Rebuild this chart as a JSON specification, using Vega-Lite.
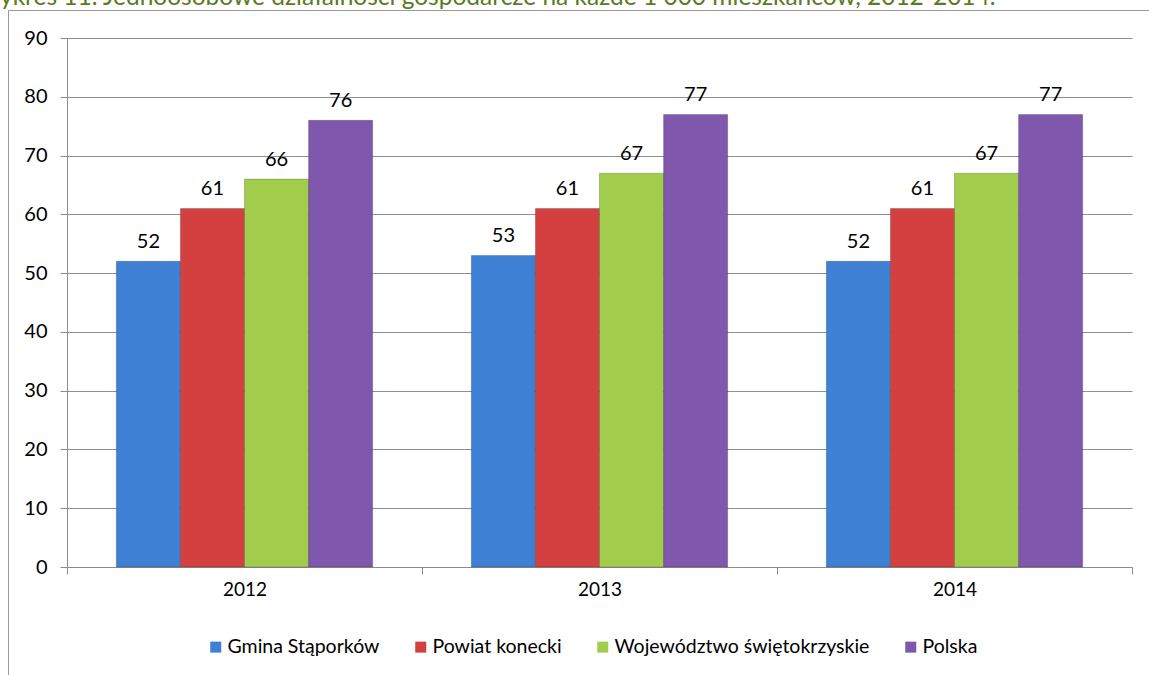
{
  "$schema": "https://vega.github.io/schema/vega-lite/v6.json",
  "width": 1141,
  "height": 665,
  "autosize": {"type": "none"},
  "padding": {"left": 8, "top": 10, "right": 0, "bottom": 0},
  "background": "white",
  "title": {
    "text": "ykres 11. Jednoosobowe działalności gospodarcze na każde 1 000 mieszkańców, 2012-2014.",
    "anchor": "start",
    "frame": "group",
    "dx": -8,
    "dy": 19,
    "offset": 0,
    "baseline": "alphabetic",
    "font": "Lato",
    "fontSize": 24.5,
    "fontWeight": "normal",
    "color": "#5a7a23"
  },
  "config": {
    "font": "Lato",
    "view": {"stroke": "#9a9a9a", "strokeWidth": 1, "strokeDash": [1141, 1806, 665, 0]}
  },
  "data": {
    "values": [
      {"rok": "2012", "jednostka": "Gmina Stąporków", "wartosc": 52},
      {"rok": "2012", "jednostka": "Powiat konecki", "wartosc": 61},
      {"rok": "2012", "jednostka": "Województwo świętokrzyskie", "wartosc": 66},
      {"rok": "2012", "jednostka": "Polska", "wartosc": 76},
      {"rok": "2013", "jednostka": "Gmina Stąporków", "wartosc": 53},
      {"rok": "2013", "jednostka": "Powiat konecki", "wartosc": 61},
      {"rok": "2013", "jednostka": "Województwo świętokrzyskie", "wartosc": 67},
      {"rok": "2013", "jednostka": "Polska", "wartosc": 77},
      {"rok": "2014", "jednostka": "Gmina Stąporków", "wartosc": 52},
      {"rok": "2014", "jednostka": "Powiat konecki", "wartosc": 61},
      {"rok": "2014", "jednostka": "Województwo świętokrzyskie", "wartosc": 67},
      {"rok": "2014", "jednostka": "Polska", "wartosc": 77}
    ]
  },
  "encoding": {
    "x": {
      "field": "rok",
      "type": "nominal",
      "title": null,
      "scale": {"paddingInner": 0, "paddingOuter": 0, "range": [59, 1124]},
      "axis": {
        "offset": -108,
        "labelAngle": 0,
        "tickBand": "extent",
        "tickSize": 7,
        "tickColor": "#8c8c8c",
        "domainColor": "#8c8c8c",
        "labelPadding": 6,
        "labelFont": "Lato",
        "labelFontSize": 19,
        "labelColor": "#000000",
        "grid": false
      }
    },
    "xOffset": {
      "field": "jednostka",
      "type": "nominal",
      "sort": ["Gmina Stąporków", "Powiat konecki", "Województwo świętokrzyskie", "Polska"],
      "scale": {"paddingInner": 0, "paddingOuter": 0.77}
    },
    "y": {
      "field": "wartosc",
      "type": "quantitative",
      "title": null,
      "scale": {"domain": [0, 90], "nice": false, "range": [557, 28]},
      "axis": {
        "offset": -59,
        "values": [0, 10, 20, 30, 40, 50, 60, 70, 80, 90],
        "tickSize": 7,
        "tickColor": "#8c8c8c",
        "domainColor": "#8c8c8c",
        "gridColor": "#8f8f8f",
        "labelPadding": 13,
        "labelFont": "Lato",
        "labelFontSize": 20,
        "labelColor": "#000000"
      }
    },
    "color": {
      "field": "jednostka",
      "type": "nominal",
      "sort": ["Gmina Stąporków", "Powiat konecki", "Województwo świętokrzyskie", "Polska"],
      "scale": {
        "domain": ["Gmina Stąporków", "Powiat konecki", "Województwo świętokrzyskie", "Polska"],
        "range": ["#3d80d4", "#d43f3f", "#a2cc4b", "#7f57ac"]
      },
      "legend": {
        "title": null,
        "orient": "none",
        "legendX": 198,
        "legendY": 627,
        "padding": 0,
        "direction": "horizontal",
        "symbolType": "square",
        "symbolSize": 121,
        "symbolStrokeWidth": 0,
        "labelFontSize": 19.5,
        "labelFont": "Lato",
        "labelColor": "#000000",
        "labelLimit": 400,
        "columnPadding": 31,
        "labelOffset": 2
      }
    }
  },
  "layer": [
    {"mark": {"type": "bar", "stroke": "#00000033", "strokeWidth": 1}},
    {
      "mark": {"type": "text", "baseline": "alphabetic", "dy": -13, "fontSize": 20, "font": "Lato"},
      "encoding": {"text": {"field": "wartosc", "type": "quantitative"}, "color": {"value": "#000000"}}
    }
  ]
}
